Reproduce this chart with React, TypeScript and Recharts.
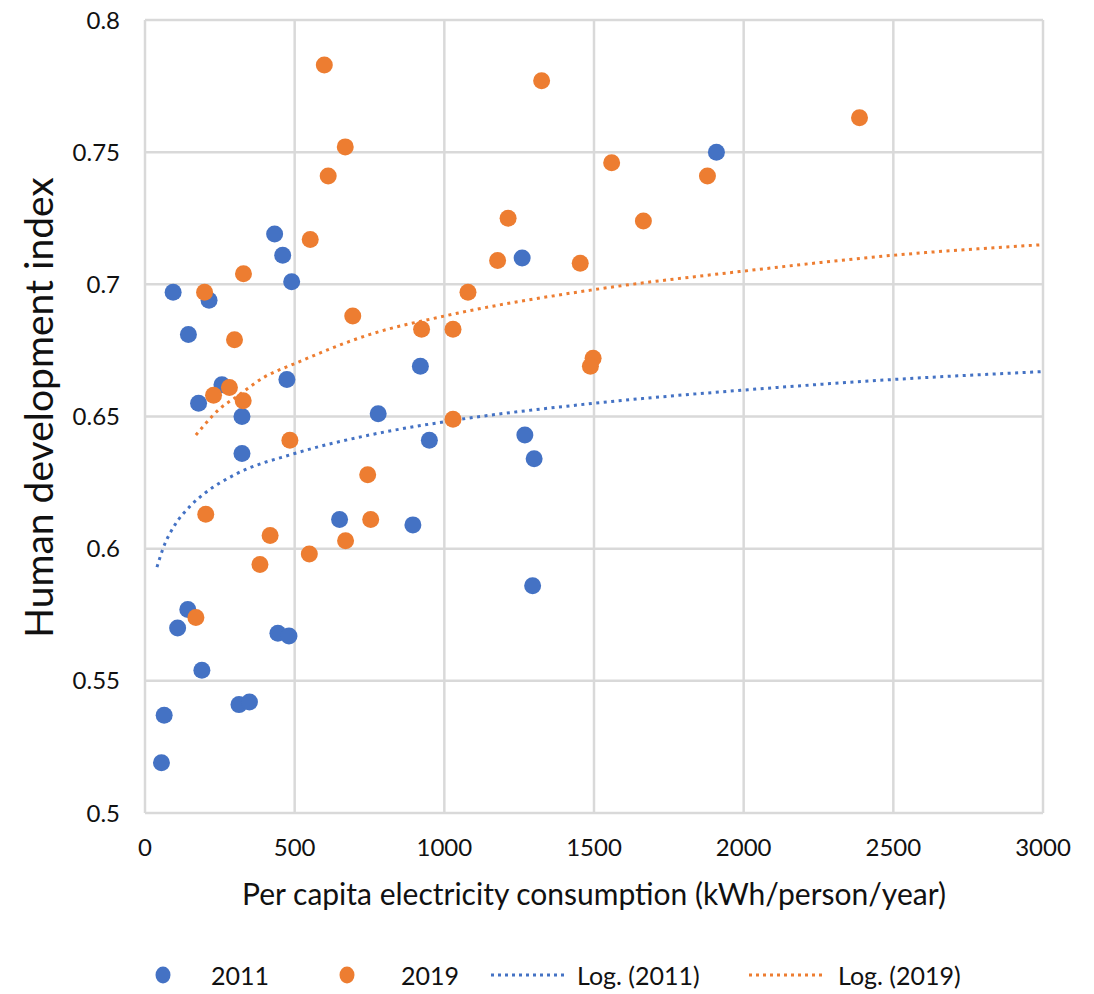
import { ComposedChart, Scatter, Line, XAxis, YAxis, CartesianGrid, Label } from "recharts"

// 2011 observations (kWh/person/year, HDI)
const x2011 = [55, 64, 94, 145, 109, 143, 179, 190, 214, 257, 324, 324, 314, 349, 433, 460, 490, 474, 444, 481, 650, 779, 895, 920, 950, 1260, 1269, 1300, 1295, 1909]
const y2011 = [0.519, 0.537, 0.697, 0.681, 0.57, 0.577, 0.655, 0.554, 0.694, 0.662, 0.65, 0.636, 0.541, 0.542, 0.719, 0.711, 0.701, 0.664, 0.568, 0.567, 0.611, 0.651, 0.609, 0.669, 0.641, 0.71, 0.643, 0.634, 0.586, 0.75]

// 2019 observations
const x2019 = [599, 612, 669, 1325, 2387, 1559, 1879, 1665, 1213, 552, 329, 199, 1079, 1178, 1454, 299, 694, 924, 1029, 1497, 1488, 282, 229, 328, 1029, 484, 744, 203, 754, 418, 384, 549, 670, 170]
const y2019 = [0.783, 0.741, 0.752, 0.777, 0.763, 0.746, 0.741, 0.724, 0.725, 0.717, 0.704, 0.697, 0.697, 0.709, 0.708, 0.679, 0.688, 0.683, 0.683, 0.672, 0.669, 0.661, 0.658, 0.656, 0.649, 0.641, 0.628, 0.613, 0.611, 0.605, 0.594, 0.598, 0.603, 0.574]

// log trend lines
const trendX2011 = [40, 60, 100, 150, 200, 300, 500, 750, 1000, 1500, 2000, 2500, 3000]
const trendY2011 = [0.593, 0.6, 0.609, 0.616, 0.621, 0.628, 0.636, 0.643, 0.648, 0.655, 0.66, 0.664, 0.667]
const trendX2019 = [170, 200, 250, 300, 400, 500, 750, 1000, 1500, 2000, 2500, 3000]
const trendY2019 = [0.643, 0.647, 0.653, 0.657, 0.665, 0.67, 0.681, 0.688, 0.698, 0.705, 0.711, 0.715]

const xTicks = [0, 500, 1000, 1500, 2000, 2500, 3000]
const yTicks = [0.5, 0.55, 0.6, 0.65, 0.7, 0.75, 0.8]

const BLUE = "#4472C4"
const ORANGE = "#ED7D31"
const FONT = "Lato, 'Open Sans', sans-serif"

const toPoints = (xs: number[], ys: number[]) => xs.map((x, i) => ({ x, y: ys[i] }))

const pts2011 = toPoints(x2011, y2011)
const pts2019 = toPoints(x2019, y2019)
const trend2011 = toPoints(trendX2011, trendY2011)
const trend2019 = toPoints(trendX2019, trendY2019)

const dot = (color: string) => (props: any) => <circle cx={props.cx} cy={props.cy} r={8.5} fill={color} />

const YTitle = (props: any) => {
  const vb = props.viewBox
  const cx = vb.x - 27
  const cy = vb.y + vb.height / 2 - 9
  return (
    <text x={cx} y={cy} transform={`rotate(-90, ${cx}, ${cy})`} textAnchor="middle" dominantBaseline="central"
      fontFamily={FONT} fontSize={39} fill="#111">
      Human development index
    </text>
  )
}

const XTitle = (props: any) => {
  const vb = props.viewBox
  return (
    <text x={vb.x + vb.width / 2} y={vb.y + 80} textAnchor="middle" dominantBaseline="central"
      fontFamily={FONT} fontSize={30} fill="#111">
      Per capita electricity consumption (kWh/person/year)
    </text>
  )
}

const legendItems = [
  { label: "2011", color: BLUE, kind: "dot" },
  { label: "2019", color: ORANGE, kind: "dot" },
  { label: "Log. (2011)", color: BLUE, kind: "line" },
  { label: "Log. (2019)", color: ORANGE, kind: "line" },
]
// left edge of swatch, left edge of text
const legendLayout = [
  [146, 203],
  [330, 393],
  [482, 569],
  [740, 830],
]

function ChartLegend() {
  return (
    <div style={{ position: "relative", width: 1078, height: 66, fontFamily: FONT, fontSize: 25, color: "#111" }}>
      {legendItems.map((item, i) => {
        const [sx, tx] = legendLayout[i]
        return (
          <div key={item.label}>
            <svg style={{ position: "absolute", left: sx, top: 37 }} width={item.kind === "dot" ? 18 : 78} height={20}>
              {item.kind === "dot" ? (
                <ellipse cx={9} cy={10} rx={7.5} ry={8.5} fill={item.color} />
              ) : (
                <line x1={1} y1={10} x2={77} y2={10} stroke={item.color} strokeWidth={3} strokeDasharray="3 4" />
              )}
            </svg>
            <span style={{ position: "absolute", left: tx, top: 32, lineHeight: "30px" }}>{item.label}</span>
          </div>
        )
      })}
    </div>
  )
}

export default function App() {
  return (
    <div style={{ width: 1078, marginTop: -8 }}>
      <ComposedChart width={1078} height={928} margin={{ top: 20, right: 43, left: 57, bottom: 55 }}>
        <CartesianGrid stroke="#d9d9d9" strokeWidth={2.5} />
        <XAxis
          type="number"
          dataKey="x"
          domain={[0, 3000]}
          ticks={xTicks}
          axisLine={false}
          tickLine={false}
          tickSize={0}
          tickMargin={26}
          height={60}
          tick={{ fontFamily: FONT, fontSize: 24, fill: "#111" }}
          allowDataOverflow
        >
          <Label content={<XTitle />} />
        </XAxis>
        <YAxis
          type="number"
          dataKey="y"
          domain={[0.5, 0.8]}
          ticks={yTicks}
          axisLine={false}
          tickLine={false}
          tickSize={0}
          tickMargin={25}
          width={80}
          tick={{ fontFamily: FONT, fontSize: 24, fill: "#111" }}
          allowDataOverflow
        >
          <Label content={<YTitle />} />
        </YAxis>
        <Line data={trend2011} dataKey="y" type="monotone" stroke={BLUE} strokeWidth={3} strokeDasharray="3 4.5" dot={false} activeDot={false} isAnimationActive={false} />
        <Line data={trend2019} dataKey="y" type="monotone" stroke={ORANGE} strokeWidth={3} strokeDasharray="3 4.5" dot={false} activeDot={false} isAnimationActive={false} />
        <Scatter data={pts2011} dataKey="y" shape={dot(BLUE)} isAnimationActive={false} />
        <Scatter data={pts2019} dataKey="y" shape={dot(ORANGE)} isAnimationActive={false} />
      </ComposedChart>
      <ChartLegend />
    </div>
  )
}
